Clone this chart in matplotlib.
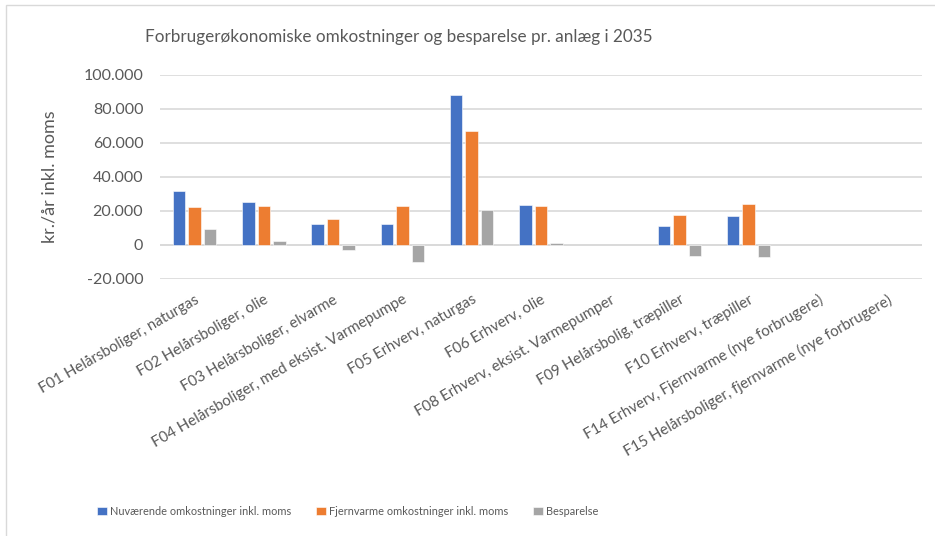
import numpy as np
import matplotlib.pyplot as plt
from matplotlib.patches import Rectangle

plt.rcParams['font.family'] = ['Lato', 'DejaVu Sans']

# kategorier og værdier (kr./år inkl. moms)
categories = [
    "F01 Helårsboliger, naturgas",
    "F02 Helårsboliger, olie",
    "F03 Helårsboliger, elvarme",
    "F04 Helårsboliger, med eksist. Varmepumpe",
    "F05 Erhverv, naturgas",
    "F06 Erhverv, olie",
    "F08 Erhverv, eksist. Varmepumper",
    "F09 Helårsbolig, træpiller",
    "F10 Erhverv, træpiller",
    "F14 Erhverv, Fjernvarme (nye forbrugere)",
    "F15 Helårsboliger, fjernvarme (nye forbrugere)",
]
nuvaerende = [31800, 25100, 12000, 12200, 88000, 23500, np.nan, 10800, 16900, np.nan, np.nan]
fjernvarme = [22400, 22700, 15100, 22700, 67000, 22600, np.nan, 17500, 23900, np.nan, np.nan]
besparelse = [9100, 2400, -3300, -10400, 20400, 1000, np.nan, -6800, -7200, np.nan, np.nan]

series = [
    ("Nuværende omkostninger inkl. moms", nuvaerende, "#4472C4"),
    ("Fjernvarme omkostninger inkl. moms", fjernvarme, "#ED7D31"),
    ("Besparelse", besparelse, "#A5A5A5"),
]

text_col = "#595959"
grid_col = "#D9D9D9"

fig = plt.figure(figsize=(9.35, 5.36), dpi=100)
ax = fig.add_axes([0.1711, 0.48, 0.8147, 0.3806])

x = np.arange(len(categories))
width = 0.178
step = 0.224
for i, (name, vals, col) in enumerate(series):
    ax.bar(x + (i - 1) * step, vals, width, color=col, label=name,
           edgecolor="white", linewidth=0.4, zorder=3)

ax.set_xlim(-0.5, len(categories) - 0.5)
ax.set_ylim(-20000, 100000)
ax.set_yticks(np.arange(-20000, 100001, 20000))
ax.set_yticklabels([f"{v:,}".replace(",", ".") for v in range(-20000, 100001, 20000)])
ax.yaxis.grid(True, color=grid_col, linewidth=1.2, zorder=0)
ax.axhline(0, color=grid_col, linewidth=1.2, zorder=1)
for s in ax.spines.values():
    s.set_visible(False)
ax.tick_params(axis="y", length=0, pad=12, labelsize=11.5, labelcolor=text_col)
ax.tick_params(axis="x", length=0, pad=10, labelsize=10.8, labelcolor=text_col)

ax.set_xticks(x)
ax.set_xticklabels(categories, rotation=30, ha="right", va="top",
                   rotation_mode="anchor")
ax.set_ylabel("kr./år inkl. moms", fontsize=13, color=text_col, labelpad=19)

fig.text(0.427, 0.931, "Forbrugerøkonomiske omkostninger og besparelse pr. anlæg i 2035",
         ha="center", va="center", fontsize=12.3, color=text_col)

fig.legend(loc="center", bbox_to_anchor=(0.372, 0.046), ncol=3, frameon=False,
           fontsize=7.9, labelcolor=text_col, handlelength=0.85, handleheight=0.85,
           handletextpad=0.3, columnspacing=2.3)

# ramme om diagrammet
fig.patches.append(Rectangle((6 / 935, -0.05), 1.1, 1 - 5 / 536 + 0.05,
                             transform=fig.transFigure, fill=False,
                             edgecolor=grid_col, linewidth=1))

fig.savefig("out.png", dpi=100)
